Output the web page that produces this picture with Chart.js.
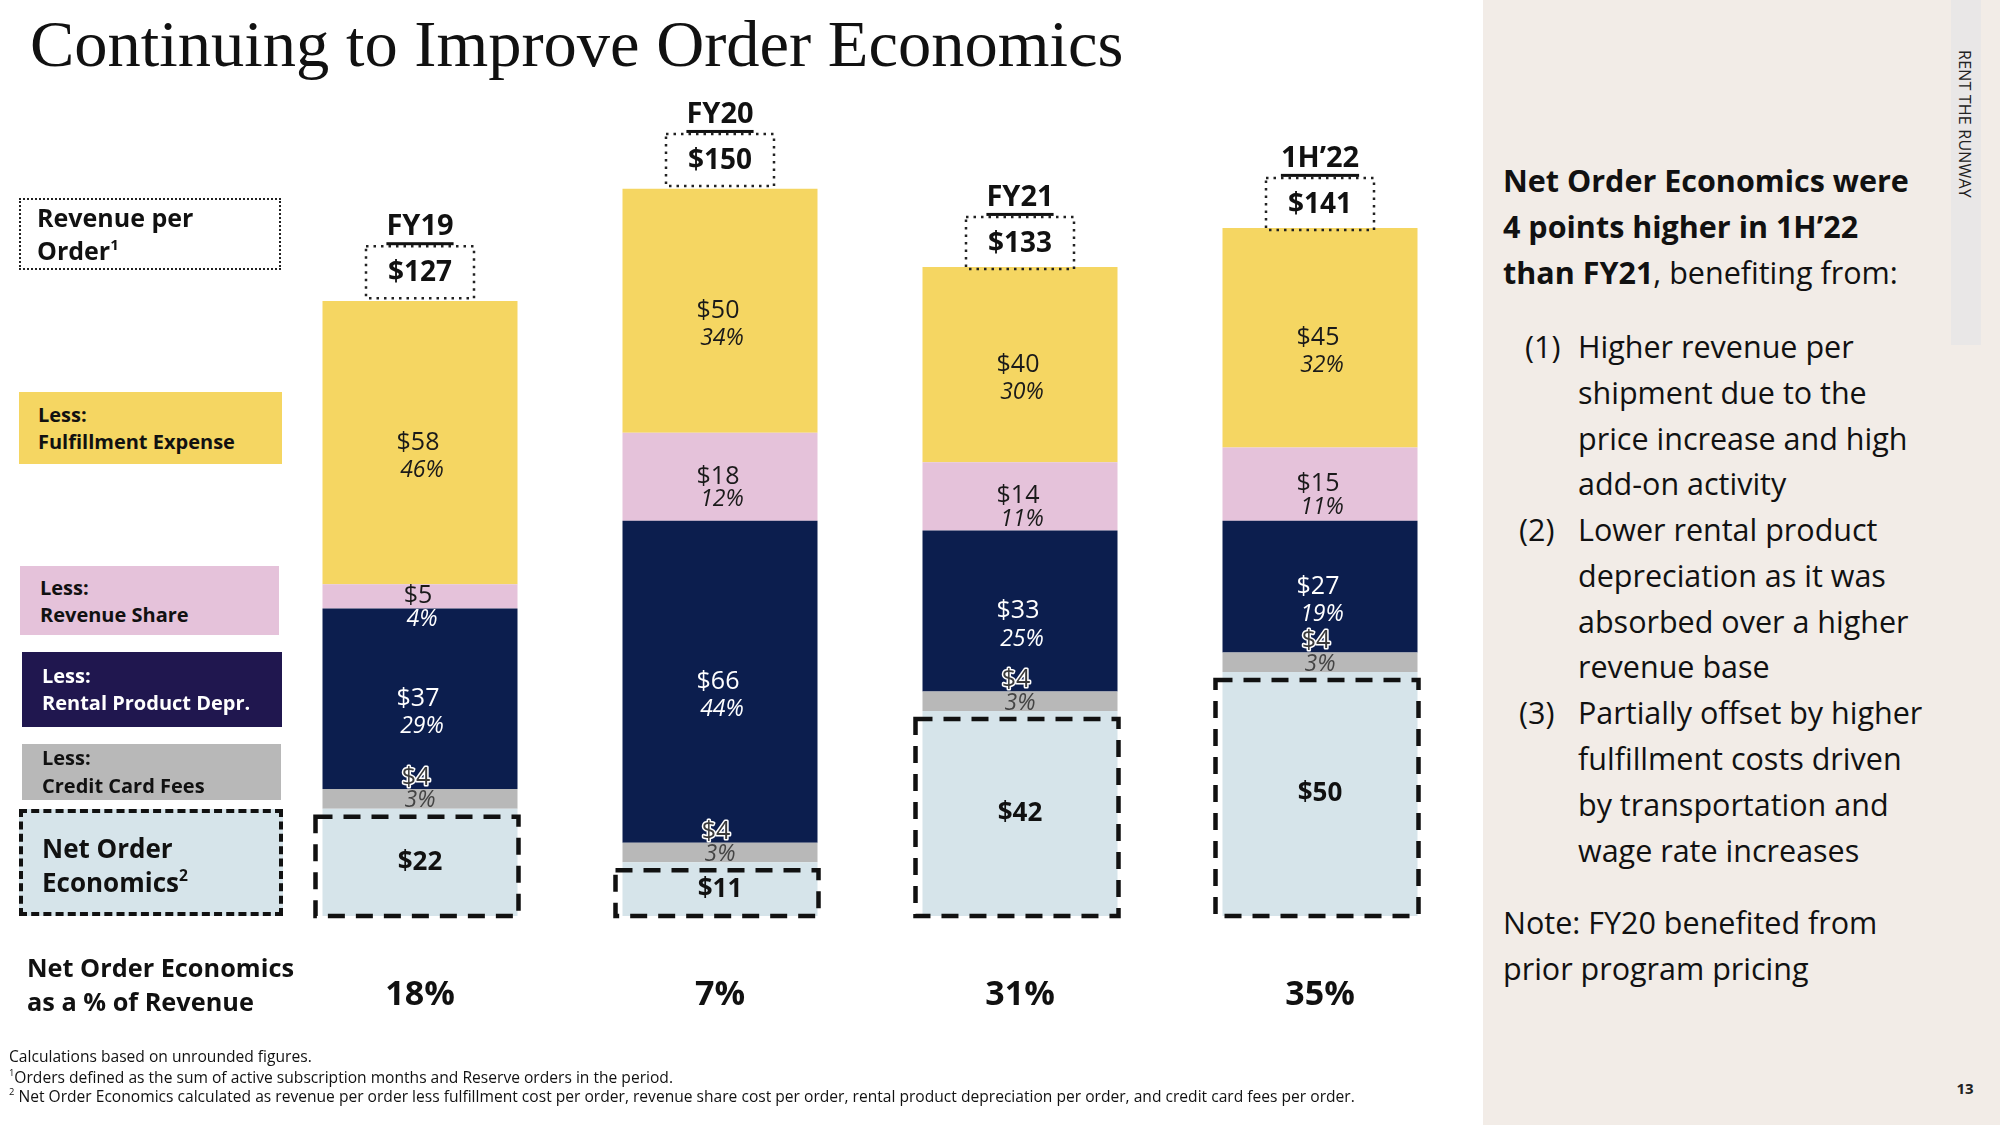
<!DOCTYPE html>
<html>
<head>
<meta charset="utf-8">
<script src="https://cdn.jsdelivr.net/npm/chart.js@4.4.1/dist/chart.umd.min.js"></script>
<style>
html,body{margin:0;padding:0;width:2000px;height:1125px;overflow:hidden;background:#fff;font-family:'Open Sans',Lato,sans-serif;color:#111}
.abs{position:absolute;white-space:nowrap}
#title{left:30px;top:4px;font-family:'Liberation Serif',serif;font-size:66.5px;line-height:80px;color:#111}
#chartWrap{position:absolute;left:0;top:0;width:1483px;height:1125px}
#panel{position:absolute;left:1483px;top:0;width:517px;height:1125px;background:#F2ECE7}
#band{position:absolute;left:1951px;top:0;width:30px;height:345px;background:#E9E7E7}
#brand{left:1965px;top:124px;transform:translate(-50%,-50%) rotate(90deg);font-size:16px;letter-spacing:0.2px;color:#222}
#pageNum{left:1965px;top:1088px;transform:translate(-50%,-50%);font-size:15px;font-weight:700;color:#222}
.lbl{position:absolute;box-sizing:border-box;font-weight:700}
.lbl div{white-space:nowrap}
sup{font-size:0.6em;line-height:0;vertical-align:0.7em}
.ln{position:absolute;white-space:nowrap;font-size:30.5px;line-height:46px;color:#111}
.fn{left:9px;font-size:15.6px;line-height:20px;color:#111}
</style>
</head>
<body>
<div id="panel"></div>
<div id="band"></div>
<div id="chartWrap"><canvas id="c" width="1483" height="1125"></canvas></div>

<div class="abs" id="title">Continuing to Improve Order Economics</div>

<!-- left legend labels -->
<div class="lbl" style="left:19px;top:198px;width:262px;height:72px;border:2.5px dotted #222;padding-left:16px;font-size:25px;line-height:33px;padding-top:1px">
  <div>Revenue per</div><div>Order<sup>1</sup></div>
</div>
<div class="lbl" style="left:19px;top:392px;width:263px;height:72px;background:#F5D662;padding-left:19px;padding-top:9px;font-size:20px;line-height:27px">
  <div>Less:</div><div>Fulfillment Expense</div>
</div>
<div class="lbl" style="left:20px;top:566px;width:259px;height:69px;background:#E5C2DA;padding-left:20px;padding-top:8px;font-size:20px;line-height:27px">
  <div>Less:</div><div>Revenue Share</div>
</div>
<div class="lbl" style="left:22px;top:652px;width:260px;height:75px;background:#20174F;color:#fff;padding-left:20px;padding-top:10px;font-size:20px;line-height:27px">
  <div>Less:</div><div>Rental Product Depr.</div>
</div>
<div class="lbl" style="left:22px;top:744px;width:259px;height:56px;background:#B8B8B8;padding-left:20px;padding-top:0px;font-size:20px;line-height:28px">
  <div>Less:</div><div>Credit Card Fees</div>
</div>
<div class="lbl" style="left:19px;top:809px;width:264px;height:107px;background:#D6E4EA;border:4px dashed #111;padding-left:19px;padding-top:18px;font-size:26px;line-height:34px">
  <div>Net Order</div><div>Economics<sup>2</sup></div>
</div>
<div class="lbl" style="left:27px;top:950px;font-size:25.3px;line-height:34px">
  <div>Net Order Economics</div><div>as a % of Revenue</div>
</div>

<!-- footnotes -->
<div class="abs fn" style="top:1046px">Calculations based on unrounded figures.</div>
<div class="abs fn" style="top:1067px"><sup>1</sup>Orders defined as the sum of active subscription months and Reserve orders in the period.</div>
<div class="abs fn" style="top:1086px"><sup>2</sup> Net Order Economics calculated as revenue per order less fulfillment cost per order, revenue share cost per order, rental product depreciation per order, and credit card fees per order.</div>

<!-- right panel text -->
<div class="ln" style="left:1503px;top:157px;font-weight:700">Net Order Economics were</div>
<div class="ln" style="left:1503px;top:203px;font-weight:700">4 points higher in 1H’22</div>
<div class="ln" style="left:1503px;top:249px"><b>than FY21</b>, benefiting from:</div>

<div class="ln" style="left:1525px;top:323px">(1)</div>
<div class="ln" style="left:1578px;top:323px">Higher revenue per</div>
<div class="ln" style="left:1578px;top:369px">shipment due to the</div>
<div class="ln" style="left:1578px;top:415px">price increase and high</div>
<div class="ln" style="left:1578px;top:460px">add-on activity</div>
<div class="ln" style="left:1519px;top:506px">(2)</div>
<div class="ln" style="left:1578px;top:506px">Lower rental product</div>
<div class="ln" style="left:1578px;top:552px">depreciation as it was</div>
<div class="ln" style="left:1578px;top:598px">absorbed over a higher</div>
<div class="ln" style="left:1578px;top:643px">revenue base</div>
<div class="ln" style="left:1519px;top:689px">(3)</div>
<div class="ln" style="left:1578px;top:689px">Partially offset by higher</div>
<div class="ln" style="left:1578px;top:735px">fulfillment costs driven</div>
<div class="ln" style="left:1578px;top:781px">by transportation and</div>
<div class="ln" style="left:1578px;top:827px">wage rate increases</div>
<div class="ln" style="left:1503px;top:899px">Note: FY20 benefited from</div>
<div class="ln" style="left:1503px;top:945px">prior program pricing</div>

<div class="abs" id="brand">RENT THE RUNWAY</div>
<div class="abs" id="pageNum">13</div>

<script>
// ---- data ----
const categories = ['FY19', 'FY20', 'FY21', '1H’22'];
const revenuePerOrder = [127, 150, 133, 141];
const netOrderEconomics = [22, 11, 42, 50];
const creditCardFees = [4, 4, 4, 4];
const rentalProductDepr = [37, 66, 33, 27];
const revenueShare = [5, 18, 14, 15];
const fulfillmentExpense = [58, 50, 40, 45];
const creditCardPct = [3, 3, 3, 3];
const rentalProductDeprPct = [29, 44, 25, 19];
const revenueSharePct = [4, 12, 11, 11];
const fulfillmentExpensePct = [46, 34, 30, 32];
const netOrderEconomicsPct = [18, 7, 31, 35];

const COLORS = {
  noe: '#D6E4EA', cc: '#B8B8B8', depr: '#0C1E4E', share: '#E5C2DA', fulfil: '#F5D662'
};

const datasets = [
  { label: 'Net Order Economics', data: netOrderEconomics, backgroundColor: COLORS.noe, pct: null, key: 'noe' },
  { label: 'Credit Card Fees', data: creditCardFees, backgroundColor: COLORS.cc, pct: creditCardPct, key: 'cc' },
  { label: 'Rental Product Depr.', data: rentalProductDepr, backgroundColor: COLORS.depr, pct: rentalProductDeprPct, key: 'depr' },
  { label: 'Revenue Share', data: revenueShare, backgroundColor: COLORS.share, pct: revenueSharePct, key: 'share' },
  { label: 'Fulfillment Expense', data: fulfillmentExpense, backgroundColor: COLORS.fulfil, pct: fulfillmentExpensePct, key: 'fulfil' }
];

const FONT = '"Open Sans", Lato, sans-serif';

function textColorAt(chart, i, y) {
  for (let d = 0; d < chart.data.datasets.length; d++) {
    const el = chart.getDatasetMeta(d).data[i];
    const top = Math.min(el.y, el.base), bot = Math.max(el.y, el.base);
    if (y >= top && y <= bot) return chart.data.datasets[d].key === 'depr' ? '#ffffff' : '#1a1a1a';
  }
  return '#1a1a1a';
}

const labelPlugin = {
  id: 'labels',
  afterDatasetsDraw(chart) {
    const ctx = chart.ctx;
    const yScale = chart.scales.y;
    ctx.save();
    ctx.textAlign = 'center';
    ctx.textBaseline = 'middle';
    // dashed boxes around net order economics
    const m0 = chart.getDatasetMeta(0);
    m0.data.forEach((el) => {
      const w = el.width;
      ctx.save();
      ctx.strokeStyle = '#111';
      ctx.lineWidth = 4.5;
      ctx.setLineDash([17, 11]);
      const x0 = el.x - w / 2 - 7, x1 = el.x + w / 2 + 1;
      const y0 = el.y + 8, y1 = el.base;
      ctx.strokeRect(x0, y0, x1 - x0, y1 - y0);
      ctx.restore();
    });
    chart.data.datasets.forEach((ds, d) => {
      const meta = chart.getDatasetMeta(d);
      meta.data.forEach((el, i) => {
        const mid = (el.y + el.base) / 2;
        const val = ds.data[i];
        if (ds.key === 'noe') {
          ctx.font = '700 26px ' + FONT;
          ctx.fillStyle = '#111';
          ctx.fillText('$' + val, el.x, mid);
          return;
        }
        let yD, yP;
        if (ds.key === 'cc') { yD = mid - 21; yP = mid + 2; }
        else if (ds.key === 'share') { yD = mid; yP = mid + 23; }
        else { yD = mid; yP = mid + 28; }
        ctx.font = '400 25px ' + FONT;
        if (ds.key === 'cc') {
          ctx.lineWidth = 3;
          ctx.strokeStyle = '#ffffff';
          ctx.lineJoin = 'round';
          ctx.strokeText('$' + val, el.x - 4, yD);
          ctx.fillStyle = '#3a3a3a';
          ctx.fillText('$' + val, el.x - 4, yD);
          ctx.font = 'italic 400 23px ' + FONT;
          ctx.fillStyle = '#444';
          ctx.fillText(ds.pct[i] + '%', el.x, yP);
        } else {
          ctx.fillStyle = textColorAt(chart, i, yD);
          ctx.fillText('$' + val, el.x - 2, yD);
          ctx.font = 'italic 400 23px ' + FONT;
          ctx.fillStyle = textColorAt(chart, i, yP);
          ctx.fillText(ds.pct[i] + '%', el.x + 2, yP);
        }
      });
    });
    // headers above bars
    const meta = chart.getDatasetMeta(0);
    meta.data.forEach((el, i) => {
      const top = yScale.getPixelForValue(revenuePerOrder[i]);
      const cx = el.x;
      ctx.font = '700 29px ' + FONT;
      ctx.fillStyle = '#111';
      const ty = top - 69;
      ctx.fillText(categories[i], cx, ty);
      const tw = ctx.measureText(categories[i]).width;
      ctx.fillRect(cx - tw / 2, ty + 15, tw, 3);
      ctx.save();
      ctx.strokeStyle = '#222';
      ctx.lineWidth = 2.5;
      ctx.setLineDash([2.5, 5]);
      ctx.strokeRect(cx - 54, top - 50, 108, 52);
      ctx.restore();
      ctx.font = '700 28px ' + FONT;
      ctx.fillStyle = '#111';
      ctx.fillText('$' + revenuePerOrder[i], cx, top - 23);
      ctx.font = '700 34px ' + FONT;
      ctx.fillText(netOrderEconomicsPct[i] + '%', cx, 995);
    });
    ctx.restore();
  }
};

new Chart(document.getElementById('c'), {
  type: 'bar',
  data: { labels: categories, datasets: datasets },
  options: {
    responsive: false,
    animation: false,
    events: [],
    layout: { padding: { left: 270, right: 13, top: 40, bottom: 209 } },
    datasets: { bar: { categoryPercentage: 1, barPercentage: 0.65, borderWidth: 0 } },
    scales: {
      x: { stacked: true, display: false },
      y: { stacked: true, display: false, min: 0, max: 179.5 }
    },
    plugins: { legend: { display: false }, tooltip: { enabled: false } }
  },
  plugins: [labelPlugin]
});
</script>
</body>
</html>
